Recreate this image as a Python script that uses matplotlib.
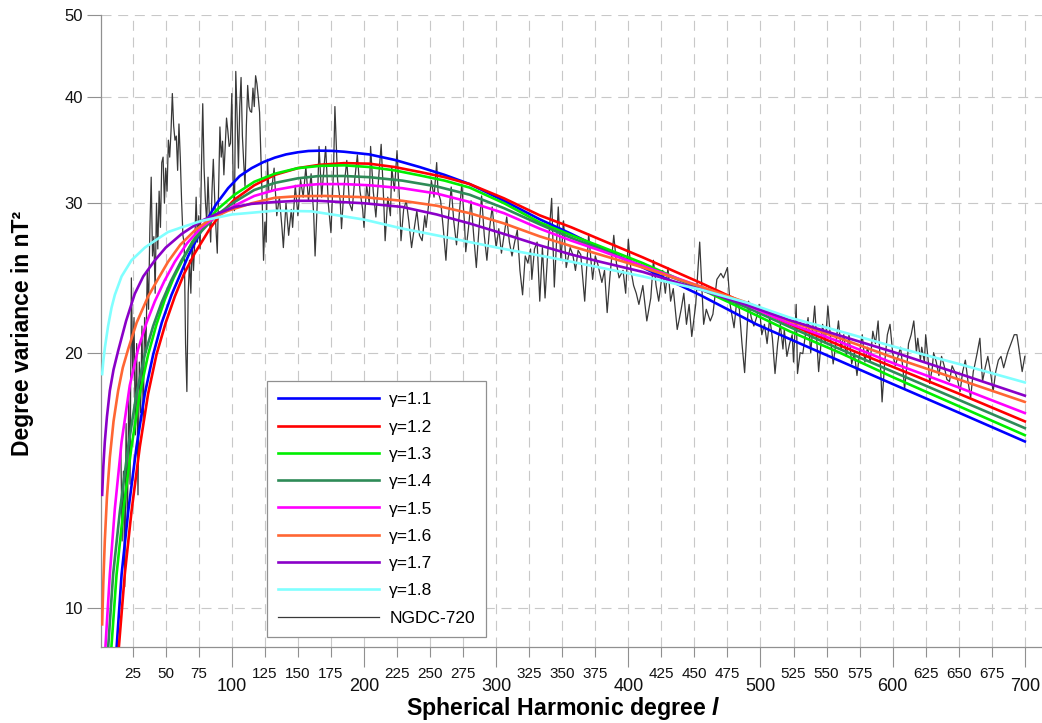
import matplotlib
matplotlib.use('Agg')
import matplotlib.pyplot as plt
from matplotlib.ticker import MultipleLocator, NullLocator, NullFormatter, FuncFormatter

plt.rcParams['font.family'] = ['Liberation Sans', 'DejaVu Sans']
plt.rcParams['mathtext.fontset'] = 'custom'
plt.rcParams['mathtext.it'] = 'Liberation Sans:italic:bold'

# model curves (degree, degree variance in nT^2)
g11_deg = [12, 16.6, 21.6, 27.9, 34.2, 40.5, 47, 54.4, 67, 79.6, 88, 97.2, 106, 115, 124, 132.5,
           141, 150, 158, 166.6, 176, 185, 204, 223, 242, 261, 280, 306, 333, 357,
           378, 411, 454, 497, 530, 600, 650, 700]
g11_var = [8.6, 10.96, 13.0, 15.5, 17.9, 19.9, 21.7, 23.4, 26.0, 28.4, 29.9, 31.25, 32.3, 33.0, 33.55, 33.95,
           34.25, 34.45, 34.57, 34.6, 34.58, 34.5, 34.25, 33.75, 33.1, 32.4, 31.6, 30.2, 28.72, 27.6,
           26.6, 25.2, 23.4, 21.6, 20.5, 18.37, 17.0, 15.72]

g12_deg = [13.5, 19, 24.1, 30.4, 36.7, 43, 50, 56.9, 64, 72, 83.4, 92, 102, 117, 132.5,
           150, 166.6, 185, 204, 223, 242, 261, 280, 306, 333, 357, 378.5, 411, 454, 490,
           522, 560, 600, 650, 700]
g12_var = [8.6, 10.96, 13.0, 15.5, 17.9, 19.9, 21.7, 23.3, 24.8, 26.2, 28.0, 29.2, 30.3, 31.5, 32.4,
           33.0, 33.3, 33.45, 33.4, 33.1, 32.66, 32.2, 31.6, 30.4, 29.03, 28.1, 27.2, 25.9, 24.2, 22.8,
           21.6, 20.4, 19.25, 17.9, 16.6]

g13_deg = [8, 12.8, 17.8, 24.1, 30.4, 36.7, 43, 49.3, 56, 63.2, 70, 77, 89, 102, 117, 132.5,
           150, 166.6, 185, 204, 223, 242, 261, 280, 306, 333, 357, 378.5, 411, 454, 490,
           522, 560, 600, 650, 700]
g13_var = [8.6, 10.96, 13.0, 15.5, 17.9, 19.9, 21.6, 23.1, 24.5, 25.8, 27.0, 28.0, 29.5, 30.7, 31.8, 32.5,
           33.0, 33.2, 33.25, 33.1, 32.8, 32.36, 31.9, 31.3, 30.0, 28.48, 27.5, 26.7, 25.5, 23.8, 22.4,
           21.2, 20.0, 18.72, 17.3, 15.99]

g14_deg = [5.6, 10.2, 15.3, 21.6, 27.9, 34.2, 40.5, 46.8, 54, 62, 70, 77, 89, 102, 117, 132.5,
           150, 166, 185, 204, 229, 255, 280, 306, 333, 357, 378.5, 411, 454, 490,
           522, 560, 600, 650, 700]
g14_var = [8.6, 10.96, 13.0, 15.5, 17.9, 19.9, 21.5, 22.9, 24.3, 25.7, 26.9, 27.8, 29.1, 30.1, 31.1, 31.7,
           32.1, 32.3, 32.3, 32.2, 31.9, 31.4, 30.7, 29.6, 28.33, 27.3, 26.5, 25.3, 23.85, 22.6,
           21.45, 20.2, 19.0, 17.6, 16.3]

g15_deg = [3.6, 7.7, 11.5, 16.6, 22.8, 29.1, 35.5, 41.8, 49, 56.9, 66, 77, 89, 102, 117, 132.5,
           150, 166, 185, 204, 229, 255, 280, 306, 333, 357, 378.5, 411, 454, 490,
           522, 560, 600, 650, 700]
g15_var = [8.6, 10.96, 13.1, 15.7, 18.3, 20.2, 21.7, 23.0, 24.3, 25.6, 26.9, 28.1, 29.0, 29.8, 30.6, 31.1,
           31.45, 31.6, 31.6, 31.5, 31.25, 30.8, 30.1, 29.2, 28.0, 27.1, 26.4, 25.3, 23.95, 22.75,
           21.65, 20.6, 19.45, 18.2, 16.98]

g16_deg = [1.9, 2.8, 3.9, 5.5, 7.7, 10.5, 14, 17.5, 21.6, 28, 36.7, 44, 51.8, 61, 72, 84, 97.2,
           115, 132.5, 150, 170, 200, 229, 255, 280, 306, 333, 357, 378.5, 411, 454, 490,
           522, 560, 600, 650, 700]
g16_var = [9.57, 10.75, 12.0, 13.5, 15.05, 16.6, 18.04, 19.2, 20.2, 21.7, 23.3, 24.4, 25.6, 26.8, 27.87, 28.75, 29.4,
           30.0, 30.45, 30.58, 30.6, 30.5, 30.2, 29.8, 29.2, 28.4, 27.42, 26.7, 26.1, 25.2, 23.95, 22.9,
           21.8, 20.8, 19.75, 18.6, 17.5]

g17_deg = [1.9, 2.8, 3.9, 5.5, 7.7, 10.5, 14, 20, 26.6, 33, 41.8, 50, 62, 77, 90, 102.3,
           115, 132.5, 150, 165, 200, 229, 255, 280, 306, 333, 357, 378.5, 411, 454, 490,
           522, 560, 600, 650, 700]
g17_var = [13.6, 14.7, 15.7, 16.8, 18.04, 19.1, 20.1, 21.8, 23.47, 24.6, 25.7, 26.6, 27.6, 28.6, 29.2, 29.7,
           29.95, 30.1, 30.2, 30.2, 30.0, 29.7, 29.1, 28.4, 27.6, 26.76, 26.1, 25.6, 24.9, 23.75, 22.75,
           21.85, 20.95, 20.05, 18.9, 17.8]

g18_deg = [1.9, 2.7, 4, 6.4, 9, 11.5, 16.6, 24.1, 34.2, 41.8, 51.8, 62, 77, 100, 132.5,
           160, 179, 200, 229.4, 255, 280, 306, 340.6, 378.5, 411, 454, 490,
           522, 560, 600, 650, 700]
g18_var = [18.87, 19.5, 20.3, 21.5, 22.6, 23.4, 24.6, 25.7, 26.6, 27.1, 27.75, 28.1, 28.6, 29.1, 29.4,
           29.35, 29.05, 28.7, 28.0, 27.5, 27.0, 26.5, 25.9, 25.2, 24.6, 23.75, 22.9,
           22.0, 21.2, 20.35, 19.4, 18.45]

ngdc_pts = [
    (16, 15.5), (17, 12.0), (18, 14.5), (19, 10.6), (20, 16.5), (21, 12.5), (22, 18.0), (23, 14.0),
    (24, 24.5), (25, 19.0), (26, 22.0), (27, 16.0), (28, 20.5), (29, 13.6), (30, 19.5), (31, 17.0),
    (32, 21.5), (33, 16.6), (34, 22.0), (35, 20.0), (36, 25.0), (37, 22.5), (38, 28.0), (39, 32.2),
    (40, 26.0), (41, 27.4), (42, 23.5), (43, 30.0), (44, 26.5), (45, 31.0), (46, 28.1), (47, 33.5),
    (48, 34.0), (49, 30.0), (50, 33.0), (51, 31.0), (52, 35.6), (53, 34.0), (54, 36.5), (55, 40.4),
    (56, 37.0), (57, 35.6), (58, 36.0), (59, 32.8), (60, 37.2), (61, 34.0), (62, 30.2), (63, 27.5),
    (64, 26.9), (65, 20.5), (66, 18.0), (67, 23.5), (68, 25.7), (69, 23.5), (70, 27.0), (71, 25.0),
    (72, 27.1), (73, 30.5), (74, 27.0), (75, 29.0), (76, 26.5), (77, 33.0), (78, 39.3), (79, 33.0),
    (80, 30.2), (81, 28.5), (82, 32.2), (83, 29.0), (84, 27.0), (85, 31.0), (86, 33.8), (87, 30.5),
    (88, 28.0), (89, 26.2), (90, 31.0), (91, 36.9), (92, 34.0), (93, 35.5), (94, 32.4), (95, 35.0),
    (96, 37.8), (97, 36.5), (98, 35.0), (99, 35.3), (100, 40.4), (101, 32.0), (102, 29.4), (103, 42.9),
    (104, 38.0), (105, 33.0), (106, 39.0), (107, 42.2), (108, 36.0), (109, 33.5), (110, 31.4), (111, 37.0),
    (112, 41.3), (113, 39.0), (114, 38.5), (115, 38.4), (116, 41.0), (117, 39.0), (118, 42.4), (119, 41.5),
    (120, 40.0), (121, 38.4), (122, 34.0), (123, 30.2), (124, 25.7), (125, 28.5), (126, 27.0), (127, 33.8),
    (128, 31.0), (130, 31.0), (132, 33.0), (134, 29.0), (136, 30.5), (138, 28.0), (139, 26.6), (141, 30.0),
    (143, 27.5), (145, 29.5), (146, 28.1), (148, 31.5), (150, 29.0), (152, 32.0), (154, 30.5), (156, 33.1),
    (158, 30.2), (160, 32.5), (162, 29.0), (163, 26.0), (165, 31.0), (166, 35.0), (168, 30.5), (170, 33.5),
    (171, 35.0), (173, 30.0), (175, 27.7), (177, 33.0), (178, 39.0), (180, 32.0), (182, 30.2), (183, 28.0),
    (185, 31.5), (187, 33.7), (189, 30.0), (191, 29.4), (193, 32.0), (195, 34.2), (197, 31.0), (199, 29.5),
    (200, 28.1), (202, 31.5), (204, 30.0), (205, 35.0), (207, 31.0), (209, 28.9), (211, 32.0), (213, 35.2),
    (215, 30.0), (216, 27.1), (218, 30.5), (220, 29.0), (221, 33.1), (223, 31.0), (225, 34.6), (227, 30.0),
    (228, 27.1), (230, 29.5), (232, 30.2), (234, 28.5), (236, 26.6), (238, 28.0), (240, 29.4), (242, 27.5),
    (244, 27.1), (246, 29.0), (247, 28.1), (249, 30.0), (251, 31.9), (253, 30.5), (255, 33.5), (256, 31.0),
    (258, 30.2), (260, 28.0), (262, 25.7), (264, 29.0), (266, 31.35), (268, 28.5), (270, 26.8), (272, 29.0),
    (274, 31.6), (276, 28.5), (277, 26.3), (279, 28.0), (281, 30.2), (283, 27.5), (285, 25.2), (287, 28.0),
    (289, 30.6), (291, 27.5), (293, 25.7), (295, 28.0), (297, 29.7), (299, 27.5), (300, 26.6), (302, 28.0),
    (304, 26.2), (306, 27.5), (308, 28.9), (310, 27.0), (312, 26.0), (314, 27.0), (316, 27.9), (318, 25.0),
    (320, 23.4), (322, 26.0), (324, 25.5), (326, 26.5), (327, 24.4), (329, 26.5), (331, 27.0), (333, 23.0),
    (335, 26.6), (337, 23.2), (339, 26.2), (342, 30.4), (344, 23.9), (347, 29.7), (349, 25.7), (351, 28.6),
    (353, 25.2), (356, 26.6), (358, 26.1), (360, 25.0), (362, 26.4), (364, 26.1), (366, 24.0), (367, 23.0),
    (370, 27.6), (373, 24.4), (375, 26.0), (377, 25.4), (380, 24.2), (382, 25.0), (384, 22.3), (386, 24.5),
    (389, 27.5), (391, 25.5), (393, 24.5), (396, 25.0), (398, 23.5), (400, 27.2), (402, 25.0), (404, 24.0),
    (406, 23.5), (408, 22.8), (411, 24.0), (414, 21.8), (417, 23.2), (419, 25.7), (421, 24.0), (423, 23.0),
    (426, 25.0), (428, 23.5), (430, 25.2), (432, 23.0), (434, 23.8), (437, 21.3), (440, 22.5), (442, 23.5),
    (444, 21.6), (446, 22.8), (448, 20.9), (451, 22.8), (454, 27.0), (457, 21.6), (459, 22.5), (462, 21.8),
    (464, 22.2), (467, 24.4), (470, 24.8), (472, 24.5), (475, 25.2), (477, 22.8), (480, 21.4), (482, 23.0),
    (484, 22.5), (486, 20.5), (488, 18.95), (491, 23.0), (493, 22.0), (495, 21.5), (497, 22.0), (499, 22.8),
    (501, 21.0), (503, 21.6), (505, 20.5), (507, 22.0), (509, 20.8), (511, 18.9), (513, 20.5), (515, 21.6),
    (517, 20.2), (518, 21.3), (520, 19.8), (522, 20.5), (524, 21.0), (525, 19.5), (527, 22.8), (528, 18.9),
    (530, 20.0), (532, 19.95), (534, 21.0), (536, 22.0), (538, 20.0), (541, 22.7), (544, 19.0), (547, 21.6),
    (549, 20.5), (551, 22.7), (553, 20.8), (555, 19.4), (557, 20.5), (559, 21.8), (561, 20.2), (563, 21.0),
    (565, 19.8), (567, 21.0), (569, 19.4), (571, 20.0), (573, 18.8), (575, 20.0), (577, 21.0), (579, 19.5),
    (581, 20.3), (583, 19.5), (585, 21.2), (587, 20.5), (589, 21.8), (591, 19.0), (592, 17.5), (594, 19.5),
    (596, 21.0), (598, 21.6), (600, 20.0), (602, 19.3), (604, 19.8), (606, 20.3), (608, 19.0), (609, 18.1),
    (611, 19.5), (612, 20.5), (614, 21.0), (616, 21.8), (618, 20.0), (619, 20.8), (621, 19.6), (622, 20.3),
    (624, 19.5), (625, 21.0), (627, 19.5), (628, 18.4), (630, 19.2), (631, 20.0), (633, 19.5), (635, 18.8),
    (637, 19.8), (639, 19.3), (641, 18.6), (643, 18.5), (645, 19.3), (647, 19.0), (649, 18.6), (651, 18.0),
    (653, 19.0), (655, 19.6), (657, 18.5), (659, 17.7), (661, 19.0), (662, 19.3), (664, 20.0), (666, 20.8),
    (668, 18.5), (670, 19.2), (672, 19.8), (674, 19.0), (676, 18.0), (678, 19.0), (680, 19.6), (682, 19.8),
    (684, 19.2), (687, 20.0), (690, 20.6), (692, 21.0), (694, 21.0), (696, 20.0), (698, 19.0), (700, 19.8),
]
ngdc_deg = [p[0] for p in ngdc_pts]
ngdc_var = [p[1] for p in ngdc_pts]

gamma_labels = ['γ=1.1', 'γ=1.2', 'γ=1.3', 'γ=1.4', 'γ=1.5', 'γ=1.6', 'γ=1.7', 'γ=1.8']
gamma_colors = ['#0000ff', '#ff0000', '#00ee00', '#2e8b57', '#ff00ff', '#ff6633', '#8a00c8', '#80ffff']
model_deg = [g11_deg, g12_deg, g13_deg, g14_deg, g15_deg, g16_deg, g17_deg, g18_deg]
model_var = [g11_var, g12_var, g13_var, g14_var, g15_var, g16_var, g17_var, g18_var]

y_ticks = [10, 20, 30, 40, 50]

fig = plt.figure(figsize=(10.42, 7.23), dpi=100)
ax = fig.add_axes([0.0969, 0.1051, 0.9031, 0.8742])

handles = []
ngdc_line, = ax.plot(ngdc_deg, ngdc_var, color='#383838', lw=0.9, zorder=2, label='NGDC-720')
for deg, var, col, lab in zip(model_deg, model_var, gamma_colors, gamma_labels):
    ln, = ax.plot(deg, var, color=col, lw=1.9, zorder=3, label=lab, solid_joinstyle='round')
    handles.append(ln)
handles.append(ngdc_line)

ax.set_yscale('log')
ax.set_xlim(1, 713)
ax.set_ylim(9, 50)
ax.set_yticks(y_ticks)
ax.set_yticklabels([str(t) for t in y_ticks])
ax.yaxis.set_minor_locator(NullLocator())
ax.yaxis.set_minor_formatter(NullFormatter())

ax.xaxis.set_major_locator(MultipleLocator(100))
ax.xaxis.set_minor_locator(MultipleLocator(25))
ax.xaxis.set_major_formatter(FuncFormatter(lambda v, p: '%d' % v))
ax.xaxis.set_minor_formatter(FuncFormatter(lambda v, p: '%d' % v))

ax.tick_params(axis='x', which='major', length=14.4, width=0.8, color='#909090',
               labelsize=13, pad=8, labelcolor='#111111')
ax.tick_params(axis='x', which='minor', length=7.2, width=0.8, color='#909090',
               labelsize=11, pad=7, labelcolor='#111111')
ax.tick_params(axis='y', which='major', length=10, width=0.8, color='#909090',
               labelsize=12, pad=3, labelcolor='#111111')

grid_style = dict(color='#c8c8c8', lw=0.8, linestyle=(0, (9, 6)))
ax.grid(True, which='both', axis='x', **grid_style)
ax.grid(True, which='major', axis='y', **grid_style)
ax.set_axisbelow(True)

for side in ['top', 'right']:
    ax.spines[side].set_visible(False)
for side in ['left', 'bottom']:
    ax.spines[side].set_color('#909090')
    ax.spines[side].set_linewidth(0.9)

leg = ax.legend(handles=handles, loc='lower left', bbox_to_anchor=(0.1764, 0.0158),
                borderaxespad=0, frameon=True, fancybox=False, edgecolor='#909090',
                fontsize=12.5, handlelength=5.8, labelspacing=0.7, borderpad=0.65,
                handletextpad=0.6, framealpha=1)
leg.get_frame().set_linewidth(0.9)

fig.text(563 / 1042, 1 - 708 / 723, 'Spherical Harmonic degree $\\it{l}$',
         ha='center', va='center', fontsize=16.7, fontweight='bold')
fig.text(23 / 1042, 1 - 333 / 723, 'Degree variance in nT²',
         ha='center', va='center', rotation=90, fontsize=16.5, fontweight='bold')

fig.savefig('out.png', dpi=100)
